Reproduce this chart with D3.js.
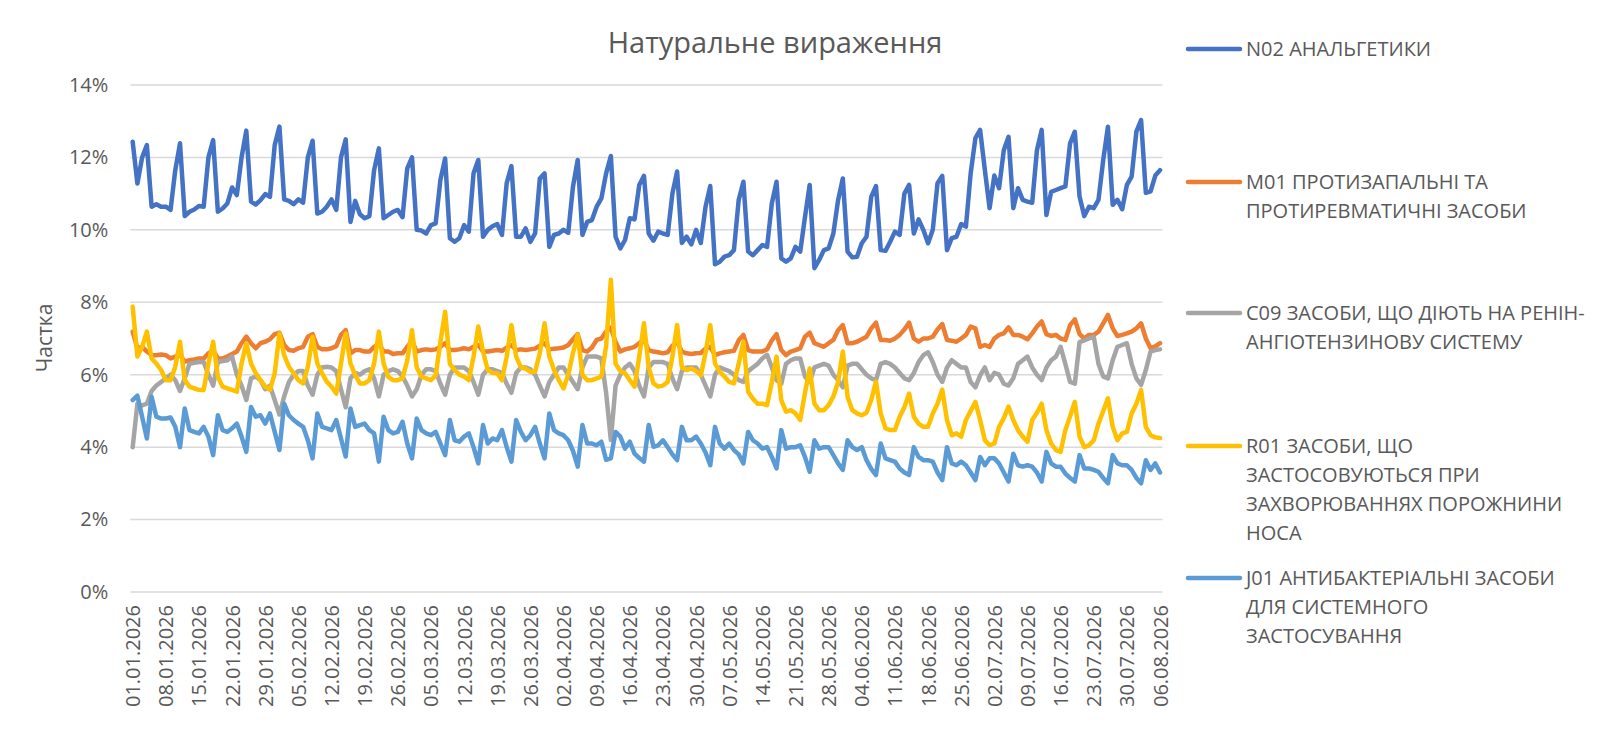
<!DOCTYPE html>
<html>
<head>
<meta charset="utf-8">
<script src="https://cdn.jsdelivr.net/npm/d3@7/dist/d3.min.js"></script>
<style>
  html, body { margin: 0; padding: 0; background: #fff; }
  svg { display: block; }
  text { font-family: "Open Sans", "DejaVu Sans", sans-serif; fill: #595959; }
</style>
</head>
<body>
<svg id="chart" width="1600" height="733"></svg>
<script>
// ---------- DATA ----------
const startDate = "2026-01-01";
const dayCount = 218;

const tickLabels = ["01.01.2026","08.01.2026","15.01.2026","22.01.2026","29.01.2026","05.02.2026","12.02.2026","19.02.2026","26.02.2026","05.03.2026","12.03.2026","19.03.2026","26.03.2026","02.04.2026","09.04.2026","16.04.2026","23.04.2026","30.04.2026","07.05.2026","14.05.2026","21.05.2026","28.05.2026","04.06.2026","11.06.2026","18.06.2026","25.06.2026","02.07.2026","09.07.2026","16.07.2026","23.07.2026","30.07.2026","06.08.2026"];

const yTicks = [0, 2, 4, 6, 8, 10, 12, 14];

const seriesNames = [
  ["N02 АНАЛЬГЕТИКИ"],
  ["M01 ПРОТИЗАПАЛЬНІ ТА", "ПРОТИРЕВМАТИЧНІ ЗАСОБИ"],
  ["C09 ЗАСОБИ, ЩО ДІЮТЬ НА РЕНІН-", "АНГІОТЕНЗИНОВУ СИСТЕМУ"],
  ["R01 ЗАСОБИ, ЩО", "ЗАСТОСОВУЮТЬСЯ ПРИ", "ЗАХВОРЮВАННЯХ ПОРОЖНИНИ", "НОСА"],
  ["J01 АНТИБАКТЕРІАЛЬНІ ЗАСОБИ", "ДЛЯ СИСТЕМНОГО", "ЗАСТОСУВАННЯ"]
];

const seriesColors = ["#4472C4", "#ED7D31", "#A5A5A5", "#FFC000", "#5B9BD5"];

const n02 = [
12.43,11.28,12.0,12.34,10.64,10.71,10.64,10.64,10.55,11.65,
12.39,10.38,10.5,10.56,10.66,10.64,12.0,12.48,10.5,10.59,
10.73,11.17,10.96,12.0,12.74,10.78,10.7,10.82,10.99,10.91,
12.34,12.85,10.84,10.8,10.71,10.84,10.75,12.0,12.46,10.45,
10.5,10.64,10.84,10.55,12.0,12.5,10.22,10.8,10.43,10.32,
10.38,11.65,12.25,10.32,10.41,10.5,10.55,10.35,11.7,12.0,
10.0,9.98,9.9,10.13,10.18,11.38,11.97,9.77,9.67,9.77,
10.13,9.95,11.56,11.93,9.81,10.0,10.1,10.16,9.86,11.29,
11.76,9.81,9.81,10.04,9.67,9.9,11.42,11.56,9.53,9.86,
9.9,10.0,9.92,11.19,11.93,9.86,10.22,10.27,10.64,10.87,
11.56,12.04,9.81,9.49,9.72,10.32,10.29,11.24,11.49,9.9,
9.7,9.95,9.9,9.86,11.0,11.61,9.64,9.81,9.6,10.0,
9.64,10.64,11.21,9.05,9.12,9.26,9.3,9.44,10.82,11.33,
9.4,9.3,9.44,9.58,9.53,10.73,11.33,9.21,9.12,9.21,
9.53,9.4,10.35,11.24,8.94,9.17,9.44,9.49,9.9,10.82,
11.42,9.4,9.24,9.26,9.63,9.81,10.91,11.21,9.44,9.42,
9.67,9.95,9.86,11.0,11.24,9.9,10.29,10.0,9.63,10.0,
11.29,11.49,9.44,9.77,9.81,10.16,10.09,11.56,12.53,12.76,
11.65,10.6,11.5,11.15,12.2,12.57,10.6,11.15,10.83,10.78,
10.75,12.2,12.76,10.41,11.05,11.1,11.15,11.2,12.39,12.71,
10.92,10.38,10.64,10.6,10.83,11.93,12.85,10.69,10.83,10.57,
11.24,11.47,12.71,13.03,11.02,11.06,11.5,11.65];

const m01 = [
7.19,6.73,6.77,6.64,6.54,6.54,6.56,6.54,6.45,6.5,
6.55,6.36,6.4,6.42,6.45,6.45,6.59,6.68,6.45,6.45,
6.5,6.57,6.64,6.87,7.05,6.87,6.73,6.87,6.91,6.98,
7.12,7.16,6.82,6.68,6.66,6.73,6.77,7.05,7.12,6.77,
6.7,6.7,6.73,6.79,7.1,7.23,6.59,6.68,6.68,6.64,
6.64,6.77,6.85,6.64,6.64,6.57,6.59,6.59,6.77,6.93,
6.64,6.68,6.7,6.68,6.7,6.77,6.87,6.68,6.68,6.7,
6.73,6.7,6.77,6.82,6.64,6.64,6.66,6.68,6.66,6.75,
6.82,6.68,6.7,6.68,6.7,6.72,6.8,6.87,6.7,6.72,
6.73,6.75,6.82,6.98,7.12,6.68,6.64,6.75,6.96,7.0,
7.19,7.3,6.9,6.64,6.7,6.73,6.77,6.87,6.96,6.68,
6.64,6.62,6.59,6.62,6.8,6.91,6.64,6.59,6.57,6.59,
6.6,6.72,6.77,6.54,6.59,6.62,6.64,6.66,6.95,7.1,
6.68,6.64,6.64,6.64,6.7,6.95,7.12,6.68,6.54,6.64,
6.68,6.73,7.05,7.16,6.87,6.82,6.77,6.87,6.96,7.23,
7.37,6.87,6.87,6.91,6.98,7.05,7.28,7.44,6.96,6.96,
6.94,7.0,7.1,7.25,7.44,7.0,6.91,7.0,7.0,7.05,
7.25,7.4,6.96,6.94,6.91,7.0,7.1,7.33,7.28,6.77,
6.82,6.77,7.0,7.1,7.14,7.31,7.1,7.1,7.05,6.98,
7.14,7.33,7.47,7.12,7.07,7.1,7.0,6.96,7.37,7.53,
7.12,7.0,7.1,7.1,7.19,7.42,7.65,7.28,7.07,7.1,
7.14,7.19,7.28,7.42,7.0,6.73,6.78,6.87];

const c09 = [
4.0,5.2,5.15,5.2,5.55,5.7,5.8,5.9,6.0,5.85,
5.55,5.9,6.3,6.33,6.35,6.35,6.0,5.7,6.35,6.38,
6.4,6.5,6.0,5.7,5.3,5.9,5.95,5.85,5.6,5.7,
5.3,4.9,5.4,5.8,6.0,6.1,6.1,5.7,5.45,6.0,
6.2,6.22,6.2,6.1,5.6,5.1,5.9,6.05,6.0,6.1,
6.15,5.9,5.4,6.0,6.1,6.15,6.1,5.95,5.7,5.4,
5.6,6.0,6.15,6.15,6.1,5.75,5.45,6.0,6.2,6.2,
6.2,6.1,5.8,5.45,6.0,6.15,6.15,6.1,6.05,5.75,
5.5,6.05,6.2,6.2,6.15,6.0,5.7,5.4,5.8,6.0,
6.2,6.2,6.0,5.8,5.6,6.2,6.5,6.5,6.5,6.45,
5.5,4.2,5.7,6.0,6.2,6.3,6.1,5.7,5.4,6.2,
6.35,6.35,6.35,6.3,5.9,5.6,6.1,6.2,6.2,6.2,
6.0,5.7,5.4,6.0,6.2,6.15,6.1,6.0,5.85,5.8,
6.1,6.2,6.3,6.45,6.55,6.2,5.85,5.75,6.3,6.4,
6.45,6.45,5.95,5.8,6.2,6.25,6.3,6.25,6.0,5.85,
5.65,6.25,6.3,6.3,6.15,6.0,5.9,5.85,6.3,6.35,
6.3,6.2,6.05,5.9,5.85,6.05,6.35,6.54,6.62,6.35,
6.0,5.8,6.2,6.4,6.3,6.2,6.2,5.8,5.65,5.98,
6.2,5.85,6.05,6.0,5.75,5.7,5.9,6.3,6.4,6.5,
6.2,6.0,5.85,6.2,6.4,6.5,6.77,6.3,5.8,5.75,
6.9,6.95,7.0,7.05,6.3,5.95,5.9,6.4,6.77,6.82,
6.87,6.3,5.9,5.72,6.13,6.64,6.68,6.7];

const r01 = [
7.88,6.5,6.77,7.19,6.45,6.31,6.13,5.85,5.85,6.22,
6.91,5.85,5.67,5.62,5.58,5.58,6.31,6.91,5.94,5.67,
5.62,5.58,5.53,6.31,6.87,6.31,6.04,5.85,5.67,5.58,
6.04,7.14,6.54,6.22,6.04,5.85,5.76,6.22,7.05,6.31,
6.04,5.81,5.67,5.48,6.31,7.14,6.31,5.99,5.76,5.76,
5.85,6.31,7.19,6.31,5.94,5.85,5.85,5.9,6.4,7.23,
6.2,5.95,5.9,5.85,5.98,6.9,7.74,6.3,6.13,6.0,
5.95,5.85,6.5,7.33,6.64,6.13,6.05,6.04,5.85,6.5,
7.37,6.5,6.2,6.17,6.08,6.08,6.6,7.42,6.5,6.13,
5.85,5.62,6.0,6.6,7.1,6.0,5.85,5.85,5.9,5.95,
6.8,8.62,6.3,6.1,6.04,5.85,5.67,6.5,7.42,6.2,
5.76,5.67,5.7,5.8,6.5,7.37,6.2,6.13,6.17,6.1,
5.98,6.6,7.37,6.31,6.08,5.95,5.8,5.76,6.3,6.91,
5.53,5.34,5.2,5.2,5.16,5.8,6.5,5.3,4.98,5.02,
4.93,4.75,5.5,6.17,5.2,5.02,5.02,5.16,5.4,5.8,
6.64,5.39,5.02,4.93,4.88,4.95,5.3,5.81,4.93,4.52,
4.47,4.47,4.84,5.1,5.48,4.84,4.65,4.56,4.56,4.93,
5.2,5.59,4.75,4.33,4.38,4.29,4.75,5.0,5.25,4.75,
4.19,4.05,4.1,4.56,4.8,5.12,4.75,4.47,4.29,4.15,
4.75,4.95,5.2,4.47,4.1,3.92,3.87,4.47,4.85,5.25,
4.29,4.0,4.05,4.19,4.65,5.0,5.35,4.56,4.19,4.38,
4.42,4.93,5.2,5.58,4.56,4.33,4.27,4.25];

const j01 = [
5.3,5.42,4.84,4.24,5.39,4.84,4.79,4.79,4.82,4.56,
4.0,5.07,4.47,4.42,4.38,4.56,4.29,3.78,4.88,4.47,
4.42,4.52,4.65,4.29,3.87,5.11,4.84,4.88,4.65,4.93,
4.42,3.92,5.2,4.88,4.75,4.65,4.56,4.19,3.69,4.93,
4.56,4.52,4.47,4.75,4.24,3.74,5.07,4.56,4.61,4.65,
4.47,4.38,3.6,4.84,4.47,4.38,4.42,4.7,4.1,3.69,
4.79,4.47,4.38,4.33,4.42,4.1,3.78,4.75,4.19,4.15,
4.29,4.38,4.0,3.55,4.61,4.1,4.24,4.19,4.47,4.0,
3.6,4.75,4.42,4.19,4.33,4.56,4.1,3.69,4.93,4.47,
4.38,4.33,4.19,3.9,3.46,4.61,4.1,4.1,4.05,4.15,
3.65,3.69,4.42,4.29,3.96,4.15,3.82,3.7,3.6,4.61,
4.01,4.05,4.19,4.0,3.8,3.64,4.56,4.19,4.19,4.29,
4.1,3.85,3.5,4.56,4.1,3.96,4.1,3.92,3.8,3.55,
4.42,4.19,4.1,3.96,4.0,3.73,3.41,4.47,3.96,4.0,
4.0,4.05,3.73,3.32,4.19,3.96,4.0,4.0,3.78,3.55,
3.37,4.19,4.0,3.92,4.0,3.64,3.4,3.23,4.1,3.69,
3.64,3.6,3.41,3.3,3.23,4.0,3.73,3.64,3.64,3.6,
3.3,3.09,4.0,3.55,3.5,3.6,3.5,3.3,3.09,3.73,
3.5,3.69,3.69,3.55,3.3,3.05,3.82,3.5,3.46,3.5,
3.46,3.3,3.05,3.87,3.55,3.46,3.46,3.27,3.15,3.05,
3.78,3.41,3.41,3.37,3.32,3.15,3.0,3.78,3.55,3.5,
3.5,3.37,3.15,3.0,3.64,3.37,3.55,3.3];

const seriesValues = [n02, m01, c09, r01, j01];

// ---------- CHART ----------
const svg = d3.select("#chart");
const plot = { left: 130.3, right: 1162.4, top: 85, bottom: 592 };

const start = d3.timeParse("%Y-%m-%d")(startDate);
const days = d3.range(dayCount).map(i => d3.timeDay.offset(start, i));
const fmt = d3.timeFormat("%d.%m.%Y");

const x = d3.scalePoint()
  .domain(days.map(fmt))
  .range([plot.left, plot.right])
  .padding(0.5);

const y = d3.scaleLinear().domain([0, 14]).range([plot.bottom, plot.top]);

// gridlines
svg.append("g")
  .selectAll("line")
  .data(yTicks)
  .join("line")
  .attr("x1", plot.left).attr("x2", plot.right)
  .attr("y1", d => y(d)).attr("y2", d => y(d))
  .attr("stroke", "#d9d9d9").attr("stroke-width", 1.5);

// y axis labels
const yAxis = d3.axisLeft(y).tickValues(yTicks).tickFormat(d => d + "%").tickSize(0).tickPadding(22);
const yg = svg.append("g").attr("transform", `translate(${plot.left},0)`).call(yAxis);
yg.select(".domain").remove();
yg.selectAll("text").attr("font-size", 20).attr("fill", "#595959")
  .style("font-family", '"Open Sans", sans-serif');

// x axis labels
const xAxis = d3.axisBottom(x).tickValues(tickLabels).tickSize(0);
const xg = svg.append("g").attr("transform", `translate(0,${plot.bottom})`).call(xAxis);
xg.select(".domain").remove();
xg.selectAll("text")
  .attr("font-size", 20).attr("fill", "#595959")
  .style("font-family", '"Open Sans", sans-serif')
  .attr("text-anchor", "end")
  .attr("transform", "rotate(-90)")
  .attr("x", -13).attr("y", 0).attr("dy", "0.35em");

// lines
const line = d3.line()
  .x((d, i) => x(fmt(days[i])))
  .y(d => y(d));

svg.append("g")
  .selectAll("path")
  .data(seriesValues)
  .join("path")
  .attr("d", d => line(d))
  .attr("fill", "none")
  .attr("stroke", (d, i) => seriesColors[i])
  .attr("stroke-width", 4.5)
  .attr("stroke-linejoin", "round")
  .attr("stroke-linecap", "round");

// title
svg.append("text")
  .attr("x", 775).attr("y", 53)
  .attr("text-anchor", "middle")
  .attr("font-size", 29)
  .text("Натуральне вираження");

// y axis title
svg.append("text")
  .attr("transform", "translate(52,338) rotate(-90)")
  .attr("text-anchor", "middle")
  .attr("font-size", 21)
  .text("Частка");

// legend
const legendTop = [49, 182, 313, 446, 578];
const lineH = 29;
const lg = svg.append("g");
seriesNames.forEach((lines, i) => {
  lg.append("line")
    .attr("x1", 1188).attr("x2", 1240)
    .attr("y1", legendTop[i]).attr("y2", legendTop[i])
    .attr("stroke", seriesColors[i]).attr("stroke-width", 4.5)
    .attr("stroke-linecap", "round");
  const t = lg.append("text").attr("x", 1246).attr("y", legendTop[i]).attr("font-size", 20);
  lines.forEach((s, k) => {
    t.append("tspan").attr("x", 1246).attr("y", legendTop[i] + k * lineH).attr("dy", "0.36em").text(s);
  });
});
</script>
</body>
</html>
